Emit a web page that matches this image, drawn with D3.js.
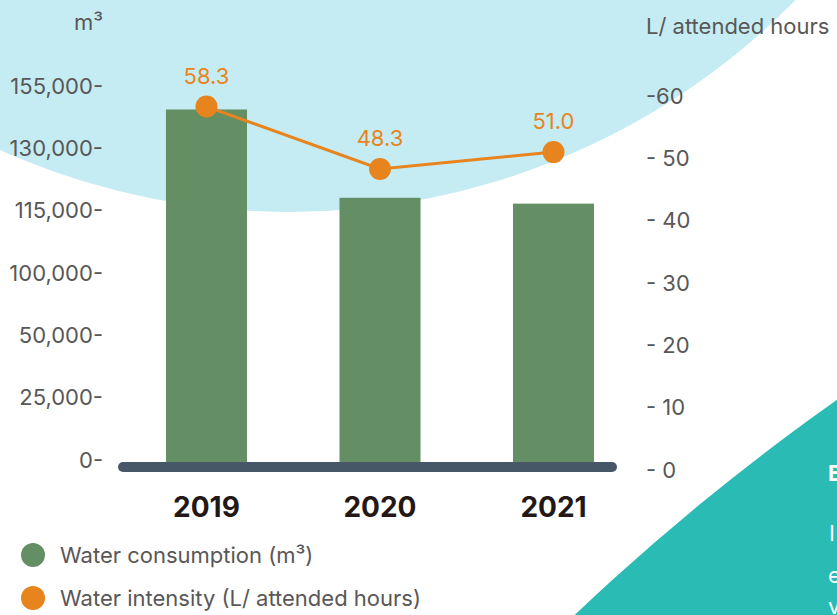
<!DOCTYPE html>
<html>
<head>
<meta charset="utf-8">
<script src="https://cdn.jsdelivr.net/npm/d3@7"></script>
<style>
  body { margin: 0; background: #fff; }
  svg { display: block; font-family: Inter, sans-serif; }
</style>
</head>
<body>
<script>
// data
const years = ["2019", "2020", "2021"];
const consumption = [145600, 118100, 116700];     // m3
const intensity = [58.3, 48.3, 51.0];             // L/ attended hours
const leftTicks = [0, 25000, 50000, 100000, 115000, 130000, 155000];
const rightTicks = [0, 10, 20, 30, 40, 50, 60];
const legendLabels = ["Water consumption (m\u00b3)", "Water intensity (L/ attended hours)"];

const width = 837, height = 615;
const green = "#648f65", orange = "#e8841d", grey = "#595757";
const font = "Inter";
const fs = 22;

const svg = d3.select("body").append("svg")
  .attr("width", width)
  .attr("height", height);

// background shapes
svg.append("circle")
  .attr("cx", 290).attr("cy", -497).attr("r", 709)
  .attr("fill", "#c5ecf3");
svg.append("circle")
  .attr("cx", 2196).attr("cy", 2323).attr("r", 2355)
  .attr("fill", "#2abbb5");

// clipped text from the page next to the chart
const side = svg.append("g").attr("fill", "#fff").attr("font-size", 22);
side.append("text").attr("x", 828).attr("y", 481).attr("font-weight", 700).text("E");
side.append("text").attr("x", 829).attr("y", 541).text("I");
side.append("text").attr("x", 828).attr("y", 583).text("e");
side.append("text").attr("x", 828).attr("y", 614).text("v");

// scales
const x = d3.scaleBand().domain(years).range([120, 640]).paddingInner(0.533).paddingOuter(0.265);
// left axis is spaced evenly between its (uneven) tick values
const yLeft = d3.scaleLinear()
  .domain(leftTicks)
  .range(leftTicks.map((d, i) => 460 - i * 62.33));
const yRight = d3.scaleLinear().domain([0, 60]).range([470, 96]);

// left axis
const gl = svg.append("g")
  .attr("transform", "translate(103,0)")
  .call(d3.axisLeft(yLeft).tickValues(leftTicks).tickSize(0).tickPadding(0)
    .tickFormat(d => d3.format(",")(d) + "-"));
gl.select(".domain").remove();
gl.selectAll("text").attr("fill", grey).attr("font-size", fs).attr("font-family", font);

// right axis
const gr = svg.append("g")
  .attr("transform", "translate(646,0)")
  .call(d3.axisRight(yRight).tickValues(rightTicks).tickSize(0).tickPadding(0)
    .tickFormat(d => d === 60 ? "-60" : "- " + d));
gr.select(".domain").remove();
gr.selectAll("text").attr("fill", grey).attr("font-size", fs).attr("font-family", font);

// unit labels
svg.append("text").attr("x", 103).attr("y", 30).attr("text-anchor", "end")
  .attr("fill", grey).attr("font-size", fs).text("m\u00b3");
svg.append("text").attr("x", 646).attr("y", 34)
  .attr("fill", grey).attr("font-size", fs).text("L/ attended hours");

// bars
svg.selectAll("rect.bar")
  .data(consumption)
  .join("rect")
  .attr("class", "bar")
  .attr("x", (d, i) => x(years[i]))
  .attr("width", x.bandwidth())
  .attr("y", d => yLeft(d))
  .attr("height", d => yLeft(0) + 4 - yLeft(d))
  .attr("fill", green);

// baseline
svg.append("line")
  .attr("x1", 123).attr("x2", 612)
  .attr("y1", 467).attr("y2", 467)
  .attr("stroke", "#465767").attr("stroke-width", 10)
  .attr("stroke-linecap", "round");

// year labels
svg.selectAll("text.year")
  .data(years)
  .join("text")
  .attr("class", "year")
  .attr("x", d => x(d) + x.bandwidth() / 2)
  .attr("y", 517)
  .attr("text-anchor", "middle")
  .attr("font-size", 28).attr("font-weight", 700)
  .attr("fill", "#231815")
  .text(d => d);

// intensity line
const cx = (d, i) => x(years[i]) + x.bandwidth() / 2;
svg.append("path")
  .datum(intensity)
  .attr("fill", "none")
  .attr("stroke", orange)
  .attr("stroke-width", 3)
  .attr("d", d3.line().x(cx).y(d => yRight(d)));

svg.selectAll("circle.pt")
  .data(intensity)
  .join("circle")
  .attr("class", "pt")
  .attr("cx", cx)
  .attr("cy", d => yRight(d))
  .attr("r", 11)
  .attr("fill", orange);

svg.selectAll("text.val")
  .data(intensity)
  .join("text")
  .attr("class", "val")
  .attr("x", cx)
  .attr("y", d => yRight(d) - 23)
  .attr("text-anchor", "middle")
  .attr("font-size", fs)
  .attr("fill", orange)
  .text(d => d.toFixed(1));

// legend
const legend = svg.selectAll("g.legend")
  .data(legendLabels)
  .join("g")
  .attr("class", "legend")
  .attr("transform", (d, i) => `translate(0,${555 + i * 43})`);
legend.append("circle")
  .attr("cx", 33).attr("r", 12)
  .attr("fill", (d, i) => i === 0 ? green : orange);
legend.append("text")
  .attr("x", 60).attr("dy", "0.35em")
  .attr("font-size", fs).attr("fill", grey)
  .text(d => d);
</script>
</body>
</html>
